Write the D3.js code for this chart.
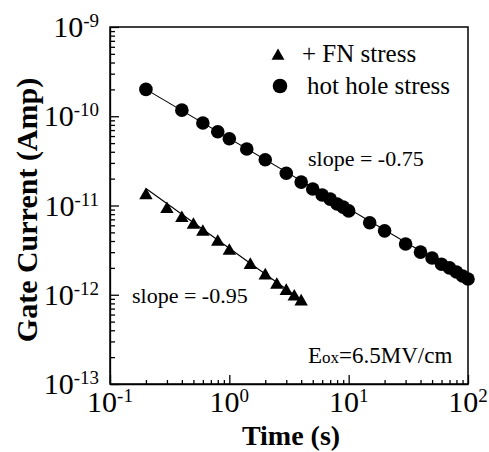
<!DOCTYPE html>
<html>
<head>
<meta charset="utf-8">
<script src="https://cdn.jsdelivr.net/npm/d3@7"></script>
<style>
  body { margin: 0; background: #fff; }
  svg { display: block; }
  text { font-family: "Liberation Serif", "Times New Roman", serif; fill: #000; }
</style>
</head>
<body>
<svg id="chart" width="489" height="452"></svg>
<script>
var hhTime, hhCurrent, fnTime, fnCurrent, hhFit, fnFit, xDecades, yDecades, legendItems;
var svg, x, y, pLeft, pTop, pRight, pBottom, sup, drawAxes, drawData, drawText;

// hot hole stress (circles)
hhTime = [0.2, 0.4, 0.6, 0.8, 1, 1.4, 2, 3, 4, 5, 6, 7, 8, 9, 10, 15, 20, 30, 40, 50, 60, 70, 80, 90, 100];
hhCurrent = [2.0e-10, 1.17e-10, 8.4e-11, 6.7e-11, 5.6e-11, 4.3e-11, 3.25e-11, 2.3e-11, 1.83e-11, 1.53e-11, 1.31e-11, 1.18e-11, 1.04e-11, 9.6e-12, 8.7e-12, 6.4e-12, 5.2e-12, 3.7e-12, 3.0e-12, 2.58e-12, 2.2e-12, 2.0e-12, 1.8e-12, 1.62e-12, 1.5e-12];

// + FN stress (triangles)
fnTime = [0.2, 0.3, 0.4, 0.5, 0.6, 0.8, 1.0, 1.5, 2.0, 2.5, 3.0, 3.5, 4.0];
fnCurrent = [1.3e-11, 9.1e-12, 7.2e-12, 6.05e-12, 5.05e-12, 3.9e-12, 3.1e-12, 2.15e-12, 1.64e-12, 1.29e-12, 1.1e-12, 9.5e-13, 8.4e-13];

// fitted lines, end points
hhFit = [[0.2, 2.0e-10], [100, 1.5e-12]];
fnFit = [[0.2, 1.55e-11], [4.3, 8.2e-13]];

xDecades = [-1, 0, 1, 2];
yDecades = [-13, -12, -11, -10, -9];
legendItems = ["+ FN stress", "hot hole stress"];

pLeft = 110; pRight = 468; pTop = 27; pBottom = 384;

svg = d3.select("#chart");

x = d3.scaleLog().domain([0.1, 100]).range([pLeft, pRight]);
y = d3.scaleLog().domain([1e-13, 1e-9]).range([pBottom, pTop]);

sup = function(sel, base, exp, size, supSize) {
  sel.append("tspan").attr("font-size", size).text(base);
  return sel.append("tspan").attr("font-size", supSize).attr("dy", -10).text(exp);
};

drawAxes = function() {
  var minor, isMajor, yAx, xAx;
  isMajor = function(d) {
    return Math.abs(Math.log10(d) - Math.round(Math.log10(d))) < 1e-6;
  };
  minor = function(decs) {
    var out = [], i, k;
    for (i = 0; i < decs.length - 1; i++) {
      for (k = 1; k < 10; k++) out.push(k * Math.pow(10, decs[i]));
    }
    out.push(Math.pow(10, decs[decs.length - 1]));
    return out;
  };
  yAx = svg.append("g").attr("transform", "translate(" + pLeft + ",0)")
    .call(d3.axisLeft(y).tickValues(minor(yDecades)).tickSizeInner(-5).tickSizeOuter(0).tickFormat(""));
  yAx.selectAll(".tick line").filter(isMajor).attr("x2", 9);
  xAx = svg.append("g").attr("transform", "translate(0," + pBottom + ")")
    .call(d3.axisBottom(x).tickValues(minor(xDecades)).tickSizeInner(-4).tickSizeOuter(0).tickFormat(""));
  xAx.selectAll(".tick line").filter(isMajor).attr("y2", -9);
  svg.selectAll(".domain, .tick line").attr("stroke", "#000").attr("stroke-width", 1.3);

  svg.append("rect").attr("x", pLeft).attr("y", pTop).attr("width", pRight - pLeft).attr("height", pBottom - pTop)
    .attr("fill", "none").attr("stroke", "#000").attr("stroke-width", 1.5);

  yDecades.forEach(function(d) {
    var t = svg.append("text").attr("x", 99).attr("y", y(Math.pow(10, d)) + 10).attr("text-anchor", "end");
    sup(t, "10", d, 30, 19);
  });
  xDecades.forEach(function(d) {
    var t = svg.append("text").attr("x", x(Math.pow(10, d))).attr("y", 412).attr("text-anchor", "middle");
    sup(t, "10", d, 30, 19);
  });

  svg.append("text").attr("x", 291).attr("y", 445).attr("text-anchor", "middle")
    .attr("font-size", 28).attr("font-weight", "bold").text("Time (s)");
  return svg.append("text").attr("transform", "translate(37,210) rotate(-90)").attr("text-anchor", "middle")
    .attr("font-size", 30).attr("font-weight", "bold").text("Gate Current (Amp)");
};

drawData = function() {
  var line, tri;
  line = d3.line().x(function(d) { return x(d[0]); }).y(function(d) { return y(d[1]); });
  svg.append("path").attr("d", line(hhFit)).attr("stroke", "#000").attr("stroke-width", 1.1).attr("fill", "none");
  svg.append("path").attr("d", line(fnFit)).attr("stroke", "#000").attr("stroke-width", 1.1).attr("fill", "none");

  svg.append("g").selectAll("circle").data(hhTime).enter().append("circle")
    .attr("cx", function(d) { return x(d); })
    .attr("cy", function(d, i) { return y(hhCurrent[i]); })
    .attr("r", 6.8).attr("fill", "#000");

  tri = d3.symbol().type(d3.symbolTriangle).size(78);
  return svg.append("g").selectAll("path").data(fnTime).enter().append("path")
    .attr("d", tri)
    .attr("transform", function(d, i) { return "translate(" + x(d) + "," + y(fnCurrent[i]) + ")"; })
    .attr("fill", "#000");
};

drawText = function() {
  var e;
  svg.append("path").attr("d", d3.symbol().type(d3.symbolTriangle).size(72)())
    .attr("transform", "translate(278,56)").attr("fill", "#000");
  svg.append("text").attr("x", 302).attr("y", 62).attr("font-size", 25).text(legendItems[0]);
  svg.append("circle").attr("cx", 280).attr("cy", 86).attr("r", 7.3).attr("fill", "#000");
  svg.append("text").attr("x", 307).attr("y", 94).attr("font-size", 25).text(legendItems[1]);

  svg.append("text").attr("x", 308).attr("y", 166).attr("font-size", 22).text("slope = -0.75");
  svg.append("text").attr("x", 132).attr("y", 303).attr("font-size", 22).text("slope = -0.95");

  e = svg.append("text").attr("x", 308).attr("y", 363);
  e.append("tspan").attr("font-size", 23).text("E");
  e.append("tspan").attr("font-size", 17).text("ox");
  return e.append("tspan").attr("font-size", 23).text("=6.5MV/cm");
};

drawAxes();
drawData();
drawText();
</script>
</body>
</html>
